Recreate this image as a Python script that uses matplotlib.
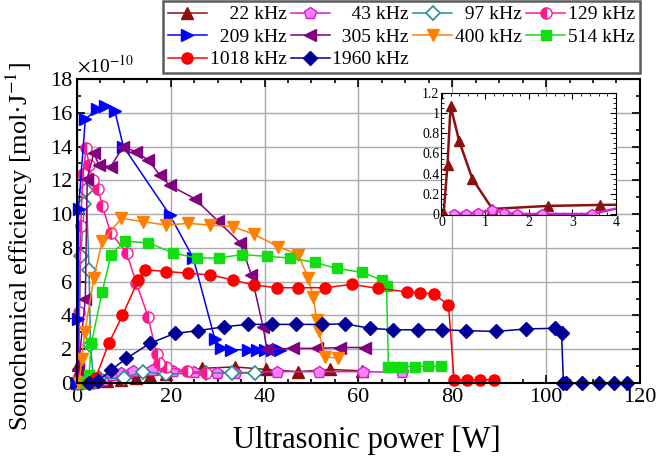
import numpy as np
import matplotlib
matplotlib.use("Agg")
import matplotlib.pyplot as plt
from matplotlib.ticker import MultipleLocator, FormatStrFormatter

plt.rcParams['font.family'] = ['Liberation Serif', 'DejaVu Serif']
plt.rcParams['mathtext.fontset'] = 'stix'

# sonochemical efficiency in units of 1e-10 mol/J, power in W
x_22 = [0.04, 0.13, 0.2, 0.4, 0.7, 1.16, 2.43, 3.64, 6.5, 9.5, 12.5, 15.5, 19, 26.6, 33.7, 40.4, 47.2, 53.9, 60.7]
y_22 = [0, 0.49, 1.07, 0.72, 0.35, 0.05, 0.08, 0.09, 0.1, 0.2, 0.3, 0.4, 0.55, 0.87, 0.95, 0.8, 0.67, 0.8, 0.72]

x_43 = [0.28, 0.55, 0.84, 1.15, 1.43, 1.72, 2.3, 3.45, 5.5, 7.5, 9.5, 12, 16, 20.5, 25, 29.8, 33.7, 42.6, 51.5, 61, 69.2]
y_43 = [0, 0, 0.01, 0.04, 0.01, 0, 0, 0, 0.2, 0.5, 0.6, 0.7, 0.75, 0.7, 0.65, 0.6, 0.6, 0.67, 0.67, 0.67, 0.63]

x_97 = [0.3, 0.8, 1.6, 2.0, 2.6, 2.9, 3.6, 4.7, 10, 14.1, 19.1, 27.6, 33, 38]
y_97 = [0, 7.5, 10.6, 11.4, 6.7, 2.25, 0.05, 0.3, 0.28, 0.67, 0.53, 0.59, 0.59, 0.59]

x_129 = [0.3, 0.5, 0.8, 1.3, 2.0, 2.6, 3.4, 4.5, 5.4, 7.2, 10.6, 12.7, 15.2, 17.0, 17.5, 19.1, 23.4, 27.6]
y_129 = [0.2, 4.2, 9.3, 12.4, 13.9, 12.9, 12.0, 11.5, 10.5, 8.9, 7.7, 5.9, 3.9, 1.7, 1.2, 0.96, 0.7, 0.6]

x_209 = [0.1, 0.3, 0.35, 1.8, 4.2, 6.0, 8.1, 9.9, 19.8, 24.8, 29.4, 30.8, 32.9, 36.5, 38.3, 40.1, 41.5, 43.3]
y_209 = [0, 3.8, 10.3, 15.6, 16.2, 16.4, 16.1, 14.0, 9.95, 7.4, 2.6, 2.05, 1.98, 1.95, 1.95, 1.95, 1.95, 1.95]

x_305 = [0.3, 1.8, 2.2, 3.6, 4.7, 7.2, 9.9, 12.5, 15.2, 17.7, 19.8, 25.2, 30, 34.8, 37.2, 39.7, 40.5, 46.1, 51.1, 56.1, 61.4]
y_305 = [0.8, 5.0, 12.1, 13.6, 12.9, 12.8, 14.0, 13.7, 13.2, 12.3, 11.7, 10.9, 9.6, 8.3, 6.4, 3.3, 2.0, 2.05, 2.05, 2.1, 2.1]

x_400 = [0.5, 1.0, 1.7, 3.6, 5.4, 9.5, 14.1, 19.1, 23.7, 28.4, 33.3, 37.8, 42.9, 47.2, 49.3, 50.4, 51.1, 51.5, 52.9, 55.7]
y_400 = [0, 1.4, 3.0, 6.2, 8.4, 9.75, 9.55, 9.35, 9.45, 9.35, 9.25, 8.8, 8.07, 7.6, 6.2, 5.1, 3.73, 3.1, 1.56, 1.46]

x_514 = [2.0, 2.6, 3.1, 5.4, 7.3, 10.2, 15.2, 20.5, 25.5, 30.3, 35.1, 40.5, 45.4, 50.7, 55.4, 60.7, 65.0, 66.0, 66.4, 67.8, 69.2, 72.1, 74.9, 77.5]
y_514 = [0, 0.5, 2.35, 5.4, 7.6, 8.4, 8.3, 7.7, 7.4, 7.4, 7.6, 7.5, 7.4, 7.14, 6.78, 6.55, 6.1, 5.74, 0.95, 0.97, 0.97, 0.97, 1.0, 1.0]

x_1018 = [2.5, 4, 6.8, 9.7, 13.1, 14.5, 19.1, 23.7, 28.4, 33.2, 37.8, 42.6, 47.2, 52.9, 58.6, 64.2, 70.3, 73.1, 76.1, 79.2, 80.4, 83.1, 85.9, 88.8]
y_1018 = [0, 0.3, 2.35, 4.0, 6.1, 6.7, 6.6, 6.5, 6.4, 6.1, 5.8, 5.64, 5.64, 5.64, 5.84, 5.6, 5.4, 5.35, 5.27, 4.62, 0.18, 0.18, 0.18, 0.2]

x_1960 = [2.5, 4.5, 7.2, 10.5, 15.6, 20.9, 25.9, 31.4, 36.4, 41.5, 46.8, 52.2, 57.1, 62.5, 67.3, 72.7, 77.8, 82.9, 89.3, 95.7, 101.9, 103.3, 103.7, 104.2, 107.6, 111.2, 114.4, 117.3]
y_1960 = [0, 0.1, 0.75, 1.45, 2.35, 2.94, 3.1, 3.33, 3.47, 3.47, 3.47, 3.47, 3.5, 3.24, 3.15, 3.15, 3.15, 3.1, 3.05, 3.2, 3.24, 2.94, 0, 0, 0, 0, 0, 0]

series = [
    ("22 kHz", x_22, y_22, dict(color='#8b1010', marker='^', ms=8)),
    ("43 kHz", x_43, y_43, dict(color='#d020d0', marker='p', ms=9, mfc='#ff80ff')),
    ("97 kHz", x_97, y_97, dict(color='#2a8c8c', marker='D', ms=7, mfc='white', mew=1.2)),
    ("129 kHz", x_129, y_129, dict(color='#ff1a8c', marker='o', ms=8, fillstyle='left', mfcalt='white')),
    ("209 kHz", x_209, y_209, dict(color='#0000ff', marker='>', ms=9)),
    ("305 kHz", x_305, y_305, dict(color='#800080', marker='<', ms=9)),
    ("400 kHz", x_400, y_400, dict(color='#ff8000', marker='v', ms=9)),
    ("514 kHz", x_514, y_514, dict(color='#11dd11', marker='s', ms=7)),
    ("1018 kHz", x_1018, y_1018, dict(color='#ff0000', marker='o', ms=8)),
    ("1960 kHz", x_1960, y_1960, dict(color='#000099', marker='D', ms=7)),
]

# padded labels so the legend text looks right aligned
pad = {"22 kHz": "    22 kHz", "43 kHz": "    43 kHz", "97 kHz": "  97 kHz",
       "209 kHz": "  209 kHz", "305 kHz": "  305 kHz"}

fig = plt.figure(figsize=(6.57, 4.59), dpi=100)
ax = fig.add_axes([0.117, 0.1656, 0.857, 0.6624])

handles = {}
for name, xs, ys, st in series:
    ln, = ax.plot(xs, ys, lw=1.1, mec=st['color'], clip_on=False, **st)
    handles[name] = ln

ax.set_xlim(0, 120)
ax.set_ylim(0, 18)
ax.xaxis.set_major_locator(MultipleLocator(20))
ax.xaxis.set_minor_locator(MultipleLocator(5))
ax.yaxis.set_major_locator(MultipleLocator(2))
ax.yaxis.set_minor_locator(MultipleLocator(1))
ax.grid(True, which='major', color='#aaaaaa', lw=1)
ax.set_axisbelow(True)
ax.tick_params(which='both', direction='in', top=True, right=True, labelsize=16, width=1.2)
ax.tick_params(which='major', length=6)
ax.tick_params(which='minor', length=3)
for s in ax.spines.values():
    s.set_linewidth(1.5)
ax.set_xlabel("Ultrasonic power [W]", fontsize=22)
ax.set_ylabel("Sonochemical efficiency [mol·J$^{-1}$]", fontsize=19)
ax.xaxis.set_label_coords(0.515, -0.14)
ax.yaxis.set_label_coords(-0.074, 0.45)
ax.text(0.0, 1.01, r"$\times$10$^{-10}$", transform=ax.transAxes, fontsize=14, ha='left', va='bottom')

order = ["22 kHz", "209 kHz", "1018 kHz", "43 kHz", "305 kHz", "1960 kHz",
         "97 kHz", "400 kHz", "129 kHz", "514 kHz"]
leg = fig.legend([handles[n] for n in order], [pad.get(n, n) for n in order],
                 ncol=4, loc='upper left', bbox_to_anchor=(0.248, 0.998, 0.726, 0.0),
                 mode='expand', borderaxespad=0, fontsize=14, handlelength=2.0,
                 handletextpad=0.15, columnspacing=0.2, labelspacing=0.25, borderpad=0.25,
                 frameon=True, fancybox=False, edgecolor='#333333')
leg.get_frame().set_linewidth(1.8)

# inset for low power region
ins = fig.add_axes([0.6712, 0.5316, 0.2664, 0.2658])
ins.plot(x_22, y_22, lw=1.8, color='#8b1010', marker='^', ms=7, mec='#8b1010')
ins.plot(x_43, y_43, lw=1.8, color='#d020d0', marker='p', ms=7, mfc='#ff80ff', mec='#d020d0')
ins.set_xlim(-0.02, 4)
ins.set_ylim(-0.01, 1.2)
ins.xaxis.set_major_locator(MultipleLocator(1))
ins.xaxis.set_minor_locator(MultipleLocator(0.2))
ins.yaxis.set_major_locator(MultipleLocator(0.2))
ins.yaxis.set_minor_locator(MultipleLocator(0.05))
ins.yaxis.set_major_formatter(FormatStrFormatter('%g'))
ins.tick_params(which='both', direction='in', top=True, right=True, labelsize=10, pad=1)
ins.tick_params(which='major', length=4)
ins.tick_params(which='minor', length=2)

fig.savefig("out.png", dpi=100)
